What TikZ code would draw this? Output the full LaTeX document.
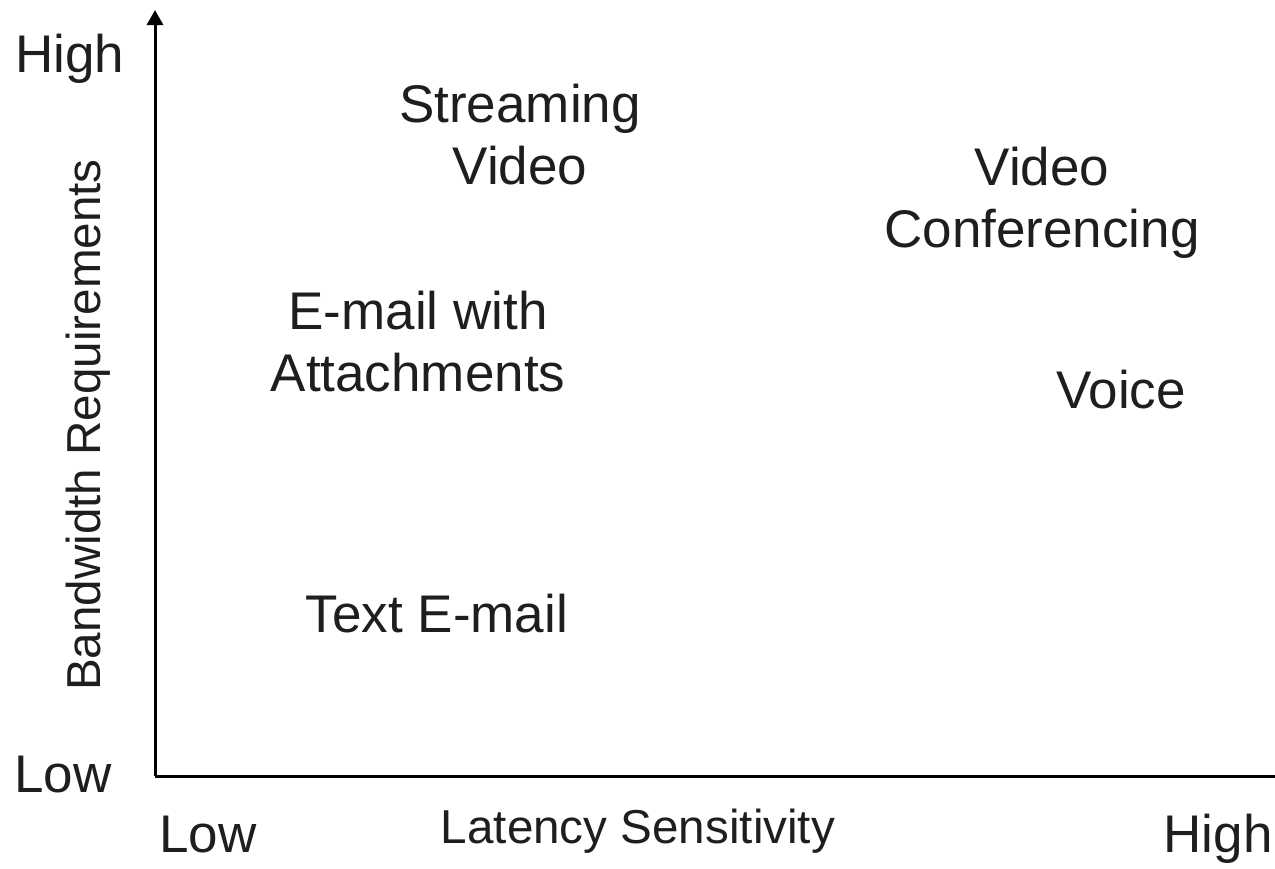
\documentclass[tikz,border=0pt]{standalone}
\usepackage{fontspec}
\setmainfont{Liberation Sans}
\usetikzlibrary{arrows.meta}
\definecolor{labelgray}{HTML}{1E1E1E}
\begin{document}
\begin{tikzpicture}[x=1pt,y=-1pt,
  label/.style={inner sep=0pt,outer sep=0pt,text=labelgray,anchor=base,
    font=\fontsize{53}{62}\selectfont,align=center},
  axistitle/.style={inner sep=0pt,outer sep=0pt,text=labelgray,anchor=base,
    font=\fontsize{47.6}{56}\selectfont},
  axis/.style={line width=3pt,draw=black}]
\useasboundingbox (0,0) rectangle (1275,868);

% axes
\coordinate (origin) at (155,776);
\coordinate (ytip) at (155,10);
\coordinate (xend) at (1275,776);
\draw[axis,-{Triangle[width=16pt,length=15pt]}] (origin) -- (ytip);
\draw[axis] (origin) -- (xend);

% axis end labels
\node[label] (yhigh) at (70,72) {High};
\node[label] (ylow) at (63,792) {Low};
\node[label] (xlow) at (208,852) {Low};
\node[label] (xhigh) at (1218,852) {High};

% axis titles
\node[axistitle] (xtitle) at (638,843) {Latency Sensitivity};
\node[axistitle,rotate=90] (ytitle) at (100,425) {Bandwidth Requirements};

% applications (base anchor sits on the last line)
\node[label] (stream) at (520,184) {Streaming\\Video};
\node[label] (conf) at (1042,247) {Video\\Conferencing};
\node[label] (attach) at (418,391) {E-mail with\\Attachments};
\node[label] (voice) at (1121,408) {Voice};
\node[label] (textmail) at (437,632) {Text E-mail};
\end{tikzpicture}
\end{document}
